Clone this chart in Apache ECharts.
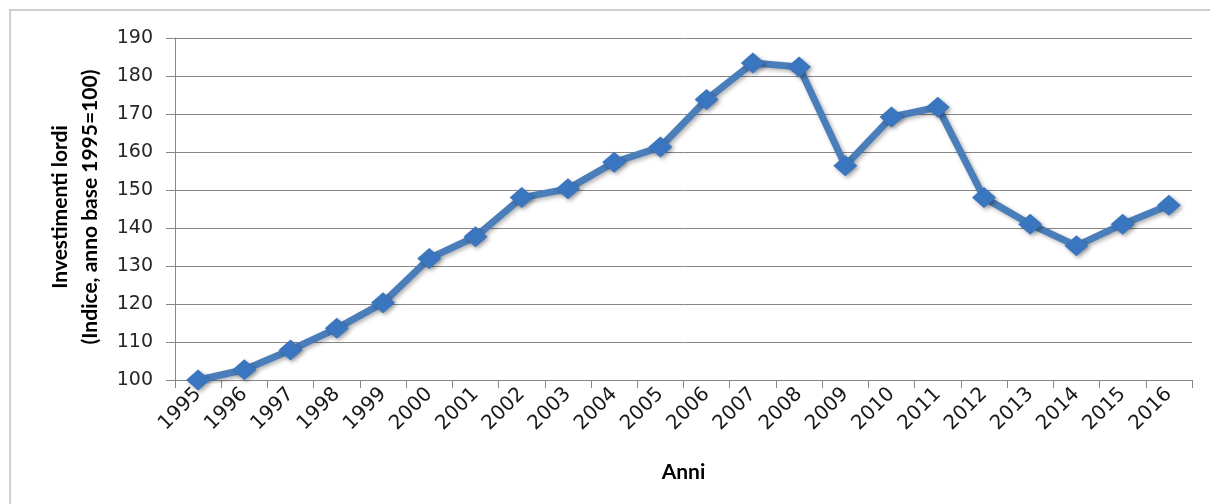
<!DOCTYPE html>
<html>
<head>
<meta charset="utf-8">
<script src="https://cdn.jsdelivr.net/npm/echarts@6/dist/echarts.min.js"></script>
<style>
  html, body { margin: 0; padding: 0; background: #ffffff; }
  #chart { width: 1210px; height: 504px; }
</style>
</head>
<body>
<div id="chart"></div>
<script>
// Gross investment index, base year 1995 = 100
const anni = ['1995','1996','1997','1998','1999','2000','2001','2002','2003','2004','2005',
              '2006','2007','2008','2009','2010','2011','2012','2013','2014','2015','2016'];
const indice = [100, 102.7, 107.9, 113.6, 120.3, 132.0, 137.7, 148.0, 150.3, 157.3, 161.3,
                173.8, 183.4, 182.4, 156.4, 169.2, 171.8, 148.0, 141.0, 135.3, 141.0, 146.0];
const yTicks = { min: 100, max: 190, step: 10 };

const chart = echarts.init(document.getElementById('chart'));
const axisGray = '#878787';

chart.setOption({
  animation: false,
  backgroundColor: '#ffffff',
  grid: { left: 175, right: 18, top: 38, bottom: 124 },
  graphic: [
    {
      type: 'rect',
      shape: { x: 10, y: 10, width: 1220, height: 520 },
      style: { fill: 'none', stroke: '#cfcfcf', lineWidth: 2 },
      silent: true
    },
    {
      type: 'text',
      x: 75, y: 207,
      rotation: Math.PI / 2,
      style: {
        text: 'Investimenti lordi\n(Indice, anno base 1995=100)',
        font: 'bold 21px Lato',
        fill: '#000000',
        align: 'center',
        verticalAlign: 'middle',
        lineHeight: 30
      }
    }
  ],
  xAxis: {
    type: 'category',
    data: anni,
    boundaryGap: true,
    name: 'Anni',
    nameLocation: 'middle',
    nameGap: 82,
    nameTextStyle: { fontFamily: 'Lato', fontWeight: 'bold', fontSize: 21, color: '#000' },
    axisLine: { show: true, lineStyle: { color: axisGray, width: 1 } },
    axisTick: { show: true, length: 8, lineStyle: { color: axisGray } },
    axisLabel: { rotate: 45, margin: 11, fontFamily: 'DejaVu Sans', fontSize: 20, color: '#1a1a1a', interval: 0 },
    splitLine: { show: false }
  },
  yAxis: {
    type: 'value',
    min: yTicks.min,
    max: yTicks.max,
    interval: yTicks.step,
    axisLine: { show: true, lineStyle: { color: axisGray, width: 1 } },
    axisTick: { show: true, length: 9, lineStyle: { color: axisGray } },
    axisLabel: { margin: 22, fontFamily: 'DejaVu Sans', fontSize: 19, color: '#262626' },
    splitLine: { show: true, lineStyle: { color: axisGray, width: 1 } }
  },
  series: [{
    type: 'line',
    data: indice,
    symbol: 'diamond',
    symbolSize: [24, 21],
    lineStyle: {
      color: '#4a7ebb', width: 7,
      shadowColor: 'rgba(0,0,0,0.3)', shadowBlur: 4, shadowOffsetX: 2, shadowOffsetY: 2
    },
    itemStyle: {
      color: '#3a75bf',
      shadowColor: 'rgba(0,0,0,0.35)', shadowBlur: 4, shadowOffsetX: 2, shadowOffsetY: 2
    },
    z: 3
  }]
});
</script>
</body>
</html>
